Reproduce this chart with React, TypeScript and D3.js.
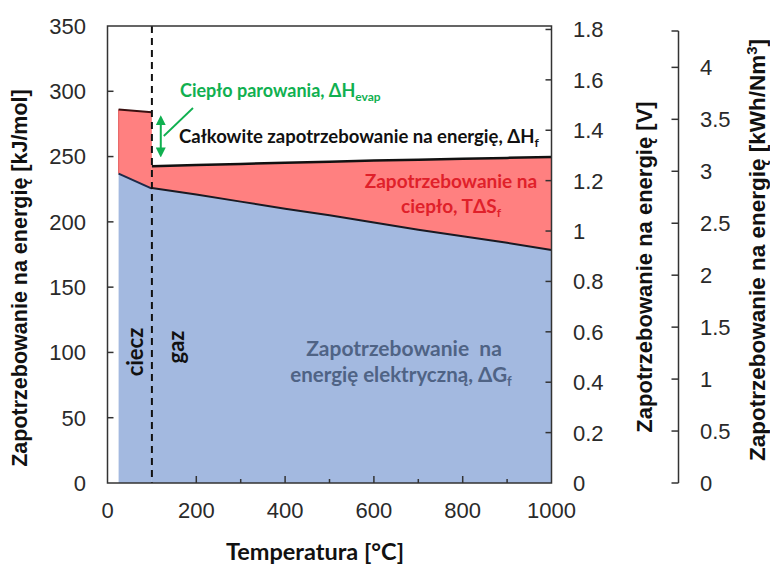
import React from 'react';
import * as d3 from 'd3';

// ---- data ----
const liquidTemps = [25, 100];
const liquidTotal = [286, 284]; // ΔH (liquid water)
const liquidElectric = [237, 225.5]; // ΔG (liquid water)

const gasTemps = [100, 200, 300, 400, 500, 600, 700, 800, 900, 1000];
const gasTotal = [242.5, 243.5, 244.4, 245.3, 246.1, 246.9, 247.6, 248.3, 249, 249.6]; // ΔH (steam)
const gasElectric = [226, 221, 215.5, 210, 205, 199.5, 194, 189, 184, 178.5]; // ΔG (steam)

const xMajorTicks = [0, 200, 400, 600, 800, 1000];
const xMinorTicks = [300, 500, 700, 900];
const yTicks = [0, 50, 100, 150, 200, 250, 300, 350];
const vTicks = [0, 0.2, 0.4, 0.6, 0.8, 1, 1.2, 1.4, 1.6, 1.8];
const kwhTicks = [0, 0.5, 1, 1.5, 2, 2.5, 3, 3.5, 4];

const phaseBoundary = 100;

const W = 770;
const H = 565;

const x = d3.scaleLinear().domain([0, 1000]).range([107.5, 551.5]);
const y = d3.scaleLinear().domain([0, 350]).range([483, 26]);
const yV = d3.scaleLinear().domain([0, 350 / 192.97]).range([483, 26]);
const yK = d3.scaleLinear().domain([0, 4.35]).range([483, 31]);

type P = { t: number; lo: number; hi: number };
const liquid: P[] = liquidTemps.map((t, i) => ({ t, lo: liquidElectric[i], hi: liquidTotal[i] }));
const gas: P[] = gasTemps.map((t, i) => ({ t, lo: gasElectric[i], hi: gasTotal[i] }));

const heatArea = d3.area<P>().x(d => x(d.t)).y0(d => y(d.lo)).y1(d => y(d.hi));
const elecArea = d3.area<P>().x(d => x(d.t)).y0(() => y(0)).y1(d => y(d.lo));
const hiLine = d3.line<P>().x(d => x(d.t)).y(d => y(d.hi));
const loLine = d3.line<P>().x(d => x(d.t)).y(d => y(d.lo));

const BLUE = '#a3b9e0';
const RED = '#ff8080';
const GREEN = '#10b050';
const TICKFONT = 'Liberation Sans, Arial, sans-serif';
const LABELFONT = 'Lato, "Open Sans", sans-serif';
const TICKCOL = '#2a2a2a';

const fmt = (v: number) => String(+v.toFixed(2));

export default function App() {
  const arrowX = x(120);
  const arrowTop = y(284);
  const arrowBot = y(247);
  return (
    <svg width={W} height={H} style={{ position: 'absolute', left: 0, top: 0, background: '#fff' }}>
      <defs>
        <marker id="ah" viewBox="0 0 10 10" refX="7" refY="5" markerWidth="5" markerHeight="5" orient="auto-start-reverse">
          <path d="M0,0 L10,5 L0,10 z" fill={GREEN} />
        </marker>
      </defs>
      <rect x={0} y={0} width={W} height={H} fill="#fff" />

      {/* areas */}
      <path d={elecArea(liquid) || ''} fill={BLUE} />
      <path d={heatArea(liquid) || ''} fill={RED} />
      <path d={elecArea(gas) || ''} fill={BLUE} />
      <path d={heatArea(gas) || ''} fill={RED} />
      <line x1={x(liquidTemps[0])} x2={x(liquidTemps[0])} y1={y(liquidTotal[0])} y2={y(liquidElectric[0])} stroke="#e86a6a" strokeWidth={1.2} />

      {/* curves */}
      <path d={hiLine(liquid) || ''} fill="none" stroke="#3a1010" strokeWidth={2} />
      <path d={loLine(liquid) || ''} fill="none" stroke="#1d2a48" strokeWidth={2} />
      <path d={hiLine(gas) || ''} fill="none" stroke="#111" strokeWidth={2.5} />
      <path d={loLine(gas) || ''} fill="none" stroke="#1a1a22" strokeWidth={2} />

      {/* phase boundary */}
      <line x1={x(phaseBoundary)} x2={x(phaseBoundary)} y1={y(350)} y2={y(0)} stroke="#111" strokeWidth={2} strokeDasharray="7,5" />

      {/* frame */}
      <rect x={x(0)} y={y(350)} width={x(1000) - x(0)} height={y(0) - y(350)} fill="none" stroke="#333" strokeWidth={1.5} />

      {/* left axis ticks */}
      {yTicks.map(v => (
        <g key={'y' + v}>
          {v > 0 && v < 350 && <line x1={x(0)} x2={x(0) + 6} y1={y(v)} y2={y(v)} stroke="#333" strokeWidth={1.5} />}
          <text x={86} y={y(v)} dy="0.36em" textAnchor="end" fontFamily={TICKFONT} fontSize={22} fill={TICKCOL}>{v}</text>
        </g>
      ))}

      {/* right axis (V) */}
      {vTicks.map(v => (
        <g key={'v' + v}>
          {v > 0 && <line x1={x(1000)} x2={x(1000) - 6} y1={yV(v)} y2={yV(v)} stroke="#333" strokeWidth={1.5} />}
          <text x={573} y={yV(v)} dy="0.36em" textAnchor="start" fontFamily={TICKFONT} fontSize={22} fill={TICKCOL}>{fmt(v)}</text>
        </g>
      ))}

      {/* bottom axis */}
      {xMajorTicks.map(v => (
        <g key={'x' + v}>
          {v > 0 && v < 1000 && <line x1={x(v)} x2={x(v)} y1={y(0)} y2={y(0) - 7} stroke="#333" strokeWidth={1.5} />}
          <text x={x(v)} y={518} textAnchor="middle" fontFamily={TICKFONT} fontSize={22} fill={TICKCOL}>{v}</text>
        </g>
      ))}
      {xMinorTicks.map(v => (
        <line key={'xm' + v} x1={x(v)} x2={x(v)} y1={y(0)} y2={y(0) - 4} stroke="#333" strokeWidth={1.5} />
      ))}

      {/* third axis (kWh/Nm3) */}
      <line x1={678.5} x2={678.5} y1={yK(4.35)} y2={yK(0)} stroke="#333" strokeWidth={1.5} />
      <line x1={678.5} x2={671.5} y1={yK(4.35)} y2={yK(4.35)} stroke="#333" strokeWidth={1.5} />
      {kwhTicks.map(v => (
        <g key={'k' + v}>
          <line x1={678.5} x2={671.5} y1={yK(v)} y2={yK(v)} stroke="#333" strokeWidth={1.5} />
          <text x={700} y={yK(v)} dy="0.36em" textAnchor="start" fontFamily={TICKFONT} fontSize={22} fill={TICKCOL}>{fmt(v)}</text>
        </g>
      ))}

      {/* axis titles */}
      <text transform="translate(27,278) rotate(-90)" textAnchor="middle" fontFamily={TICKFONT} fontWeight="bold" fontSize={21.5} fill="#111">Zapotrzebowanie na energię [kJ/mol]</text>
      <text transform="translate(652,267) rotate(-90)" textAnchor="middle" fontFamily={TICKFONT} fontWeight="bold" fontSize={22} fill="#111">Zapotrzebowanie na energię [V]</text>
      <text transform="translate(765,250) rotate(-90)" textAnchor="middle" fontFamily={TICKFONT} fontWeight="bold" fontSize={22.5} fill="#111">
        Zapotrzebowanie na energię [kWh/Nm<tspan dy="-8" fontSize={15}>3</tspan><tspan dy="8">]</tspan>
      </text>
      <text x={315} y={560} textAnchor="middle" fontFamily={LABELFONT} fontWeight="bold" fontSize={23.5} fill="#111">Temperatura [°C]</text>

      {/* annotations */}
      <line x1={arrowX} x2={arrowX} y1={arrowTop + 6} y2={arrowBot - 6} stroke={GREEN} strokeWidth={2} markerStart="url(#ah)" markerEnd="url(#ah)" />
      <line x1={193} y1={108} x2={arrowX + 3} y2={136} stroke={GREEN} strokeWidth={1.8} />
      <text x={180} y={97} fontFamily={LABELFONT} fontWeight="bold" fontSize={18} fill={GREEN}>
        Ciepło parowania, ΔH<tspan dy="4" fontSize={12}>evap</tspan>
      </text>
      <text x={179} y={143} fontFamily={LABELFONT} fontWeight="bold" fontSize={18.5} fill="#111">
        Całkowite zapotrzebowanie na energię, ΔH<tspan dy="4" fontSize={12}>f</tspan>
      </text>
      <text x={451} y={188} textAnchor="middle" fontFamily={LABELFONT} fontWeight="bold" fontSize={19} fill="#e0202a">Zapotrzebowanie na</text>
      <text x={451} y={213} textAnchor="middle" fontFamily={LABELFONT} fontWeight="bold" fontSize={19} fill="#e0202a">
        ciepło, TΔS<tspan dy="4" fontSize={12}>f</tspan>
      </text>
      <text x={404} y={356} textAnchor="middle" fontFamily={LABELFONT} fontWeight="bold" fontSize={21} fill="#4f6385" style={{ whiteSpace: 'pre' }}>Zapotrzebowanie  na</text>
      <text x={401} y={382} textAnchor="middle" fontFamily={LABELFONT} fontWeight="bold" fontSize={20.5} fill="#4f6385">
        energię elektryczną, ΔG<tspan dy="4" fontSize={13}>f</tspan>
      </text>
      <text transform="translate(143,352) rotate(-90)" textAnchor="middle" fontFamily={LABELFONT} fontWeight="bold" fontSize={22} fill="#111">ciecz</text>
      <text transform="translate(184,347) rotate(-90)" textAnchor="middle" fontFamily={LABELFONT} fontWeight="bold" fontSize={22} fill="#111">gaz</text>
    </svg>
  );
}
